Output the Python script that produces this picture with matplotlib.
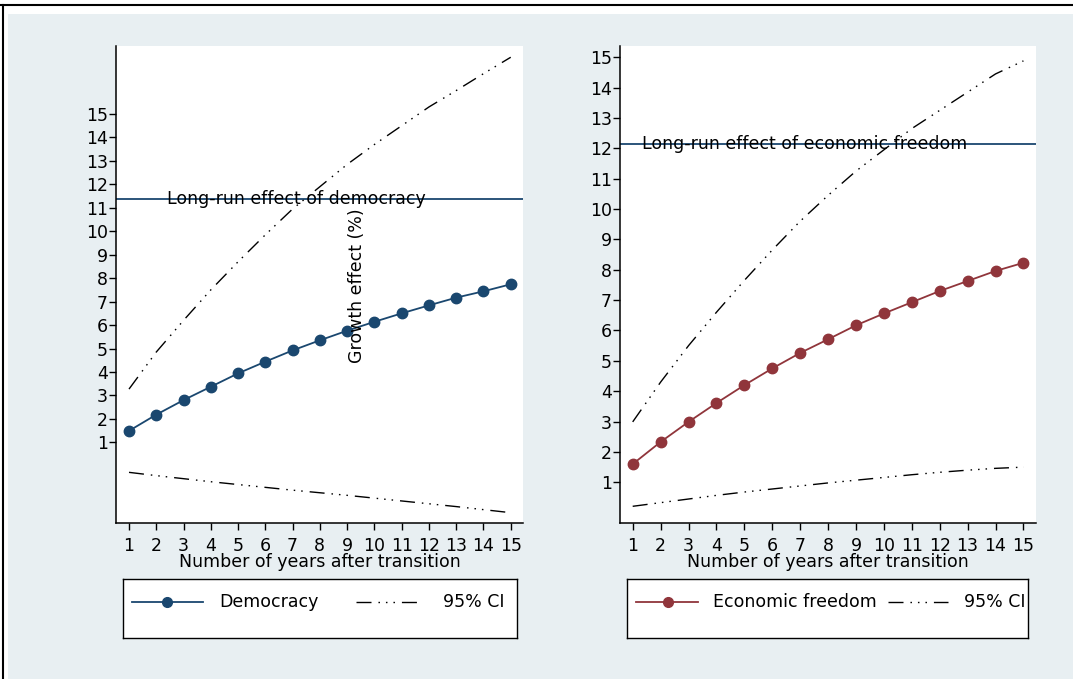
import matplotlib
matplotlib.use("Agg")
import matplotlib.pyplot as plt
from matplotlib.lines import Line2D
from matplotlib.patches import Rectangle

# ---------------- data ----------------
years = list(range(1, 16))
democracy = [1.49, 2.18, 2.80, 3.37, 3.94, 4.44, 4.92, 5.35, 5.76, 6.14, 6.50, 6.84, 7.17, 7.44, 7.74]
dem_upper = [3.27, 4.85, 6.2, 7.5, 8.7, 9.85, 10.95, 11.9, 12.85, 13.7, 14.5, 15.3, 16.0, 16.72, 17.42]
dem_lower = [-0.28, -0.42, -0.55, -0.68, -0.80, -0.92, -1.04, -1.15, -1.26, -1.38, -1.50, -1.62, -1.74, -1.87, -2.0]
dem_longrun = 11.39

econ = [1.60, 2.33, 2.99, 3.61, 4.20, 4.75, 5.26, 5.71, 6.17, 6.56, 6.93, 7.30, 7.63, 7.96, 8.23]
econ_upper = [2.99, 4.3, 5.5, 6.6, 7.65, 8.65, 9.6, 10.45, 11.25, 11.95, 12.65, 13.25, 13.85, 14.45, 14.88]
econ_lower = [0.21, 0.33, 0.45, 0.57, 0.68, 0.78, 0.88, 0.98, 1.07, 1.16, 1.25, 1.33, 1.40, 1.46, 1.50]
econ_longrun = 12.14

yticks = list(range(1, 16))
xlabel = "Number of years after transition"
ylabel = "Growth effect (%)"

# ---------------- style ----------------
plt.rcParams['font.family'] = ['DejaVu Sans']
NAVY = '#1a476f'
MAROON = '#90353b'
BG = '#e8eff2'
CI_DASH = (0, (10.8, 5, 1.1, 4.3, 1.1, 4.3, 1.1, 5))
FS = 12.5

W, H = 1073, 679
fig = plt.figure(figsize=(W / 100, H / 100), dpi=100, facecolor='white')

fig.patches.append(Rectangle((8 / W, 0), 1 - 8 / W, 1 - 14 / H, transform=fig.transFigure,
                             facecolor=BG, edgecolor='none', zorder=-10))
fig.add_artist(Line2D([0, 1], [1 - 4.5 / H] * 2, transform=fig.transFigure, color='black', lw=1.5))
fig.add_artist(Line2D([3 / W] * 2, [0, 1 - 4.5 / H], transform=fig.transFigure, color='black', lw=1.5))


def px_axes(x0, y0, x1, y1):
    return fig.add_axes([x0 / W, 1 - y1 / H, (x1 - x0) / W, (y1 - y0) / H])


def style_axes(ax, xlim, ylim):
    ax.set_facecolor('white')
    ax.set_xlim(*xlim)
    ax.set_ylim(*ylim)
    for s in ['top', 'right']:
        ax.spines[s].set_visible(False)
    for s in ['left', 'bottom']:
        ax.spines[s].set_color('black')
        ax.spines[s].set_linewidth(1.1)
    ax.set_xticks(years)
    ax.set_yticks(yticks)
    ax.tick_params(axis='both', direction='out', length=5, width=1, labelsize=FS, colors='black')
    ax.tick_params(axis='y', pad=1)
    ax.tick_params(axis='x', pad=5)
    ax.set_xlabel(xlabel, fontsize=FS, labelpad=-1.5)


def draw_panel(ax, vals, upper, lower, longrun, color, text, text_x):
    ax.plot(years, upper, color='black', lw=1.0, linestyle=CI_DASH, zorder=2)
    ax.plot(years, lower, color='black', lw=1.0, linestyle=CI_DASH, zorder=2)
    ax.plot(years, vals, color=color, lw=1.3, marker='o', markersize=7.5, zorder=3)
    ax.axhline(longrun, color=NAVY, lw=1.3, zorder=1)
    ax.text(text_x, longrun, text, fontsize=FS, va='center', ha='left', zorder=4)


ax1 = px_axes(116, 46, 523, 523)
style_axes(ax1, (0.523, 15.45), (-2.44, 17.9))
draw_panel(ax1, democracy, dem_upper, dem_lower, dem_longrun, NAVY,
           'Long-run effect of democracy', 2.38)

ax2 = px_axes(620.3, 46, 1036, 523)
style_axes(ax2, (0.556, 15.45), (-0.34, 15.37))
draw_panel(ax2, econ, econ_upper, econ_lower, econ_longrun, MAROON,
           'Long-run effect of economic freedom', 1.34)

fig.text(357 / W, 1 - 286 / H, ylabel, rotation=90, fontsize=FS, ha='center', va='center')


def legend_box(x0, y0, x1, y1, color, label, line_x, marker_x, text_x, ci_x, ci_text_x):
    lax = px_axes(x0, y0, x1, y1)
    lax.set_xlim(0, 1)
    lax.set_ylim(0, 1)
    lax.set_xticks([])
    lax.set_yticks([])
    lax.set_facecolor('white')
    for s in lax.spines.values():
        s.set_color('black')
        s.set_linewidth(1.0)
    yy = 0.616
    lax.add_line(Line2D(line_x, [yy, yy], color=color, lw=1.3))
    lax.add_line(Line2D([marker_x], [yy], color=color, marker='o', markersize=7, lw=0))
    lax.text(text_x, yy, label, fontsize=FS, va='center', ha='left')
    lax.add_line(Line2D(ci_x, [yy, yy], color='black', lw=1.0, linestyle=CI_DASH))
    lax.text(ci_text_x, yy, '95% CI', fontsize=FS, va='center', ha='left', clip_on=True)


legend_box(123.3, 579.3, 516.7, 637.7, NAVY, 'Democracy',
           [0.0214, 0.2034], 0.1118, 0.244, [0.5915, 0.7626], 0.8134)
legend_box(627.3, 579.3, 1028.3, 637.7, MAROON, 'Economic freedom',
           [0.0217, 0.1771], 0.1007, 0.2130, [0.6509, 0.8005], 0.8399)

fig.savefig('out.png', dpi=100, facecolor=fig.get_facecolor())
